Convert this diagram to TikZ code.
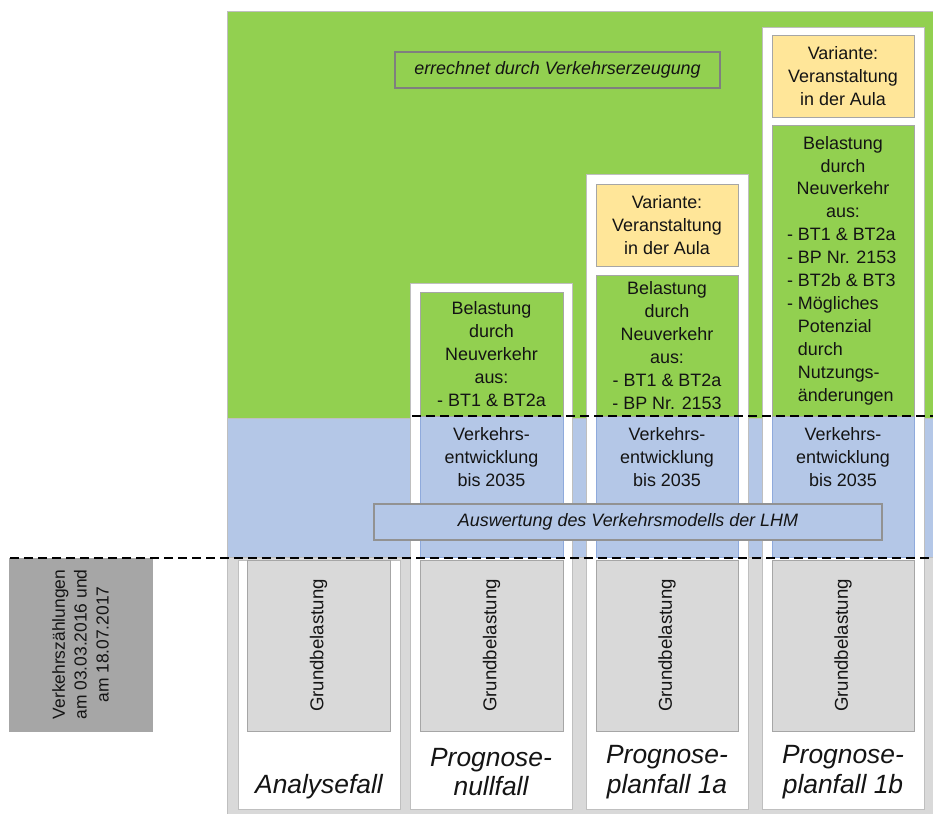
\documentclass[tikz,border=0pt]{standalone}
\usepackage{fontspec}
\setmainfont{Liberation Sans}
\definecolor{cgreen}{HTML}{92D050}
\definecolor{cblue}{HTML}{B4C7E7}
\definecolor{cgray}{HTML}{D9D9D9}
\definecolor{cyellow}{HTML}{FFE699}
\definecolor{cdark}{HTML}{A6A6A6}
\definecolor{bgline}{HTML}{BFBFBF}
\definecolor{colline}{HTML}{BFBFBF}
\definecolor{inline}{HTML}{A6A6A6}
\definecolor{blueline}{HTML}{8FAADC}
\definecolor{frameline}{HTML}{7F7F7F}
\definecolor{txt}{HTML}{141414}
\begin{document}
\begin{tikzpicture}[x=1bp,y=-1bp,
  sz/.style 2 args={minimum width=#1bp, minimum height=#2bp},
  rbox/.style={draw, line width=0.75bp, inner sep=0pt, outer sep=0pt, anchor=north west,
    align=center, text=txt, font=\fontsize{18}{23}\selectfont},
  bgarea/.style={rbox, draw=bgline},
  colbox/.style={rbox, fill=white, draw=colline},
  grnbox/.style={rbox, fill=cgreen, draw=inline},
  bluebox/.style={rbox, fill=cblue, draw=blueline},
  graybox/.style={rbox, fill=cgray, draw=inline},
  yelbox/.style={rbox, fill=cyellow, draw=inline},
  framebox/.style={rbox, line width=1.5bp, draw=frameline, font=\fontsize{18}{21}\selectfont\itshape},
  body/.style={inner sep=0pt, align=center, text=txt, font=\fontsize{18}{23}\selectfont},
  rottxt/.style={body, rotate=90, font=\fontsize{18.7}{22}\selectfont},
  caselabel/.style={inner sep=0pt, align=center, text=txt, font=\fontsize{26.5}{30}\selectfont\itshape},
  dashline/.style={line width=2.3bp, black, dash pattern=on 9bp off 5bp}
]
\useasboundingbox (0,0) rectangle (933,814);

% background areas
\node[bgarea, fill=cgreen, sz={706}{407}] (bgG) at (227,11) {};
\node[bgarea, fill=cblue, sz={706}{139}] (bgB) at (227,418) {};
\node[bgarea, fill=cgray, sz={706}{257}] (bgR) at (227,557) {};

% left box
\node[rbox, fill=cdark, draw=cdark, sz={143}{173}] (zaehl) at (9,558) {};
\node[rottxt, font=\fontsize{17.5}{22}\selectfont] (zaehltxt) at (zaehl.center) {Verkehrszählungen\\am 03.03.2016 und\\am 18.07.2017};

% column frames
\node[colbox, sz={162}{249}] (c1) at (238,560) {};
\node[colbox, sz={162}{526}] (c2) at (410,283) {};
\node[colbox, sz={162}{635}] (c3) at (586,174) {};
\node[colbox, sz={162}{782}] (c4) at (762,27) {};

% top frame
\node[framebox, fill=cgreen, sz={325}{36}] (erz) at (395,52) {errechnet durch Verkehrserzeugung};

% Grundbelastung boxes
\node[graybox, sz={143}{171}] (g1) at (247,560) {};
\node[graybox, sz={143}{171}] (g2) at (420,560) {};
\node[graybox, sz={142}{171}] (g3) at (596,560) {};
\node[graybox, sz={142}{171}] (g4) at (772,560) {};
\foreach \g in {g1,g2,g3,g4}{
  \node[rottxt] at (\g.center) {Grundbelastung};
}

% blue boxes
\node[bluebox, sz={143}{141}] (b2) at (420,416) {};
\node[bluebox, sz={142}{141}] (b3) at (596,416) {};
\node[bluebox, sz={142}{141}] (b4) at (772,416) {};
\foreach \b in {b2,b3,b4}{
  \node[body] at ([yshift=-41bp]\b.north) {Verkehrs-\\entwicklung\\bis 2035};
}

% green boxes
\node[grnbox, sz={143}{124}] (n2) at (420,292) {Belastung\\durch\\Neuverkehr\\aus:\\- BT1 \& BT2a};
\node[grnbox, sz={142}{141}] (n3) at (596,275) {Belastung\\durch\\Neuverkehr\\aus:\\- BT1 \& BT2a\\- BP Nr. 2153};
\node[grnbox, sz={142}{291}] (n4) at (772,125) {Belastung\\durch\\Neuverkehr\\aus:\\
  \makebox[112bp][l]{- BT1 \& BT2a}\\
  \makebox[112bp][l]{- BP Nr. 2153}\\
  \makebox[112bp][l]{- BT2b \& BT3}\\
  \makebox[112bp][l]{- Mögliches}\\
  \makebox[112bp][l]{\hphantom{- }Potenzial}\\
  \makebox[112bp][l]{\hphantom{- }durch}\\
  \makebox[112bp][l]{\hphantom{- }Nutzungs-}\\
  \makebox[112bp][l]{\hphantom{- }änderungen}};

% yellow boxes
\node[yelbox, sz={142}{82}] (y3) at (596,184) {Variante:\\Veranstaltung\\in der Aula};
\node[yelbox, sz={142}{82}] (y4) at (772,35) {Variante:\\Veranstaltung\\in der Aula};

% Auswertung frame
\node[framebox, draw=frameline!85, fill=cblue, sz={508}{36}] (ausw) at (374,504) {Auswertung des Verkehrsmodells der LHM};

% dashed lines
\coordinate (d1a) at (412,416);
\coordinate (d1b) at (933,416);
\coordinate (d2a) at (10,558);
\coordinate (d2b) at (933,558);
\draw[dashline] (d1a) -- (d1b);
\draw[dashline] (d2a) -- (d2b);

% case labels
\node[caselabel] (l1) at ([yshift=22bp]c1.south) {Analysefall};
\node[caselabel] (l2) at ([yshift=37bp]c2.south) {Prognose-\\nullfall};
\node[caselabel] (l3) at ([yshift=37bp]c3.south) {Prognose-\\planfall 1a};
\node[caselabel] (l4) at ([yshift=37bp]c4.south) {Prognose-\\planfall 1b};
\end{tikzpicture}
\end{document}
